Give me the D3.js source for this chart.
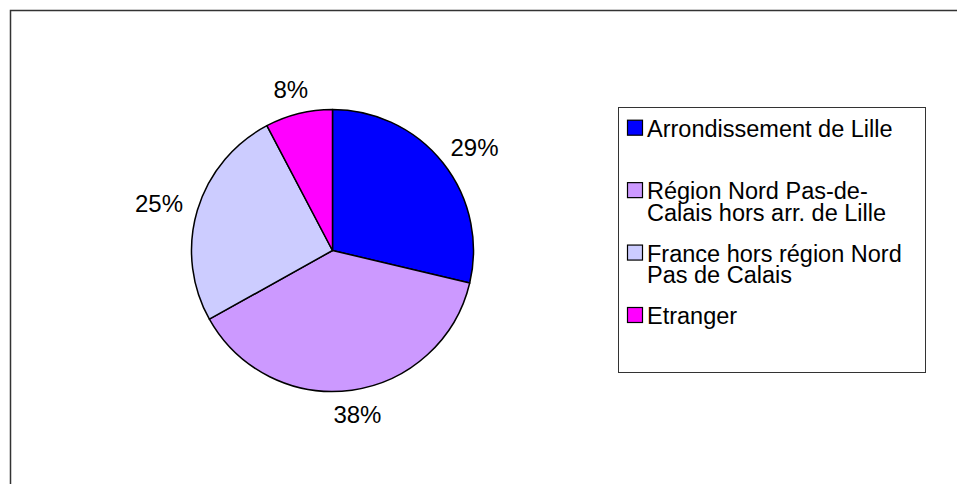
<!DOCTYPE html>
<html>
<head>
<meta charset="utf-8">
<script src="https://cdn.jsdelivr.net/npm/d3@7"></script>
<style>
  body { margin: 0; background: #fff; }
  svg { display: block; }
  text { font-family: "Liberation Sans", Arial, sans-serif; fill: #000; }
</style>
</head>
<body>
<svg id="chart"></svg>
<script>
// Origin of visitors (share, %)
const categories = [
    'Arrondissement de Lille',
    'Région Nord Pas-de-Calais hors arr. de Lille',
    'France hors région Nord Pas de Calais',
    'Etranger'
];
const values = [28.7, 38.2, 25.4, 7.7];
const legendLines = [
    ['Arrondissement de Lille'],
    ['Région Nord Pas-de-', 'Calais hors arr. de Lille'],
    ['France hors région Nord', 'Pas de Calais'],
    ['Etranger']
];
const colors = ['#0000ff', '#cc99ff', '#ccccff', '#ff00ff'];

const width = 957, height = 484;
const svg = d3.select('#chart').attr('width', width).attr('height', height);

// Chart area border (only top and left edges are inside the picture)
svg.append('path')
    .attr('d', `M10.5,${height} V10.5 H${width}`)
    .attr('fill', 'none')
    .attr('stroke', '#333')
    .attr('stroke-width', 1.5);

// Pie
const cx = 332.5, cy = 250.5, radius = 141;
const color = d3.scaleOrdinal().domain(categories).range(colors);

const pie = d3.pie().sort(null).value(d => d.value);
const arcs = pie(categories.map((c, i) => ({ name: c, value: values[i] })));
const arc = d3.arc().innerRadius(0).outerRadius(radius);
const labelArc = d3.arc().innerRadius(157).outerRadius(157);

const g = svg.append('g').attr('transform', `translate(${cx},${cy})`);

g.selectAll('path.slice')
    .data(arcs)
    .join('path')
    .attr('class', 'slice')
    .attr('d', arc)
    .attr('fill', d => color(d.data.name))
    .attr('stroke', '#000')
    .attr('stroke-width', 1.5)
    .attr('stroke-linejoin', 'round');

// labels sit outside the pie, pushed out by half their own box
g.selectAll('text.pct')
    .data(arcs)
    .join('text')
    .attr('class', 'pct')
    .attr('text-anchor', 'middle')
    .attr('dy', '0.35em')
    .attr('font-size', '24px')
    .text(d => Math.round(d.data.value) + '%')
    .attr('transform', function(d) {
        const a = (d.startAngle + d.endAngle) / 2;
        const [x, y] = labelArc.centroid(d);
        const bb = this.getBBox();
        const dx = Math.sin(a) * bb.width / 2;
        const dy = -Math.cos(a) * 17 / 2;
        return `translate(${x + dx},${y + dy})`;
    });

// Legend
const legend = { x: 618, y: 107.5, w: 307, h: 265 };
const lineHeight = 21.7;

svg.append('rect')
    .attr('x', legend.x + 0.5).attr('y', legend.y)
    .attr('width', legend.w).attr('height', legend.h)
    .attr('fill', '#fff')
    .attr('stroke', '#333')
    .attr('stroke-width', 1);

const legendY = d3.scalePoint().domain(categories).range([136.7, 324]);

const item = svg.append('g').selectAll('g.item')
    .data(categories)
    .join('g')
    .attr('class', 'item')
    .attr('transform', d => `translate(${legend.x + 9},${legendY(d)})`);

item.append('rect')
    .attr('x', 0.5).attr('y', -16.5)
    .attr('width', 15).attr('height', 15)
    .attr('fill', d => color(d))
    .attr('stroke', '#000')
    .attr('stroke-width', 1.2);

item.append('text')
    .attr('x', 20)
    .attr('font-size', '23.5px')
    .selectAll('tspan')
    .data((d, i) => legendLines[i])
    .join('tspan')
    .attr('x', 20)
    .attr('y', (d, j) => j * lineHeight)
    .text(d => d);
</script>
</body>
</html>
